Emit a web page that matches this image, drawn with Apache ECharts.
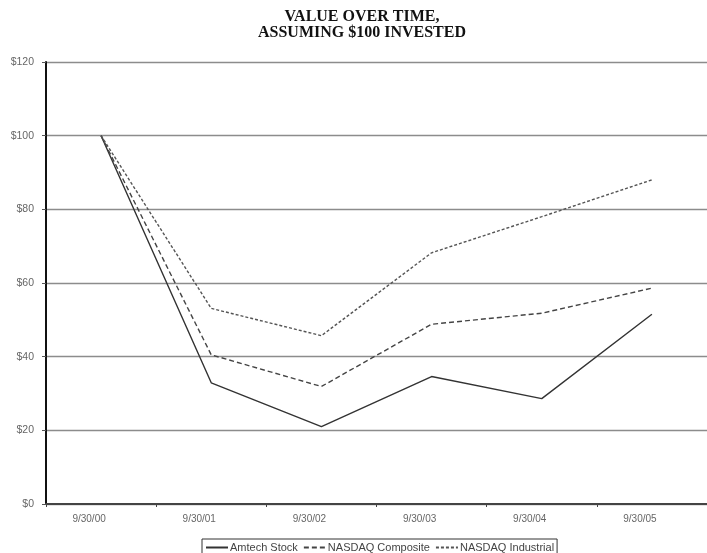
<!DOCTYPE html>
<html>
<head>
<meta charset="utf-8">
<script src="https://cdn.jsdelivr.net/npm/echarts@6/dist/echarts.min.js"></script>
<style>
html,body{margin:0;padding:0;background:#fff;}
#chart{width:707px;height:553px;}
</style>
</head>
<body>
<div id="chart"></div>
<script>
const categories = ['9/30/00', '9/30/01', '9/30/02', '9/30/03', '9/30/04', '9/30/05'];
const amtechStock = [100, 32.9, 21.0, 34.6, 28.6, 51.5];
const nasdaqComposite = [100, 40.5, 31.9, 48.8, 51.8, 58.6];
const nasdaqIndustrial = [100, 53.1, 45.7, 68.2, 78.0, 88.0];
const seriesNames = ['Amtech Stock', 'NASDAQ Composite', 'NASDAQ Industrial'];
const yTicks = [0, 20, 40, 60, 80, 100, 120];

const chart = echarts.init(document.getElementById('chart'));
chart.setOption({
  animation: false,
  backgroundColor: '#fff',
  title: {
    text: 'VALUE OVER TIME,\nASSUMING $100 INVESTED',
    left: 362,
    top: 9,
    padding: 0,
    textAlign: 'center',
    textStyle: {
      fontFamily: 'Liberation Serif',
      fontWeight: 'bold',
      fontSize: 16,
      lineHeight: 16,
      color: '#111'
    }
  },
  legend: {
    data: seriesNames,
    left: 202,
    top: 539,
    padding: [3, 3, 6, 3],
    itemGap: 5,
    itemWidth: 22,
    itemHeight: 10,
    borderColor: '#333',
    borderWidth: 1,
    borderRadius: 0,
    itemStyle: { color: 'rgba(0,0,0,0)', borderWidth: 0, opacity: 0 },
    textStyle: { fontFamily: 'Liberation Sans', fontSize: 11, color: '#444', padding: [0, 0, 0, -3] }
  },
  grid: { left: 46, right: -10, top: 62, bottom: 49, containLabel: false },
  xAxis: {
    type: 'category',
    data: categories,
    boundaryGap: true,
    axisLine: { show: true, lineStyle: { color: '#444', width: 2 } },
    axisTick: { show: true, length: 3, lineStyle: { color: '#444', width: 1 } },
    axisLabel: {
      fontFamily: 'Liberation Sans', fontSize: 10, color: '#666',
      margin: 10, padding: [0, 24, 0, 0]
    },
    splitLine: { show: false }
  },
  yAxis: {
    type: 'value',
    min: yTicks[0],
    max: yTicks[yTicks.length - 1],
    interval: 20,
    axisLine: { show: true, lineStyle: { color: '#111', width: 2 } },
    axisTick: { show: true, length: 4, lineStyle: { color: '#555', width: 1 } },
    axisLabel: {
      fontFamily: 'Liberation Sans', fontSize: 10.5, color: '#666', margin: 12,
      formatter: v => '$' + v
    },
    splitLine: { show: true, lineStyle: { color: '#8c8c8c', width: 1.3 } }
  },
  series: [
    {
      name: seriesNames[0], type: 'line', data: amtechStock,
      symbol: 'none', color: '#333',
      lineStyle: { color: '#333', width: 1.4, type: 'solid' }
    },
    {
      name: seriesNames[1], type: 'line', data: nasdaqComposite,
      symbol: 'none', color: '#444',
      lineStyle: { color: '#444', width: 1.4, type: [5, 3] }
    },
    {
      name: seriesNames[2], type: 'line', data: nasdaqIndustrial,
      symbol: 'none', color: '#555',
      lineStyle: { color: '#555', width: 1.4, type: [3, 2] }
    }
  ]
});
</script>
</body>
</html>
